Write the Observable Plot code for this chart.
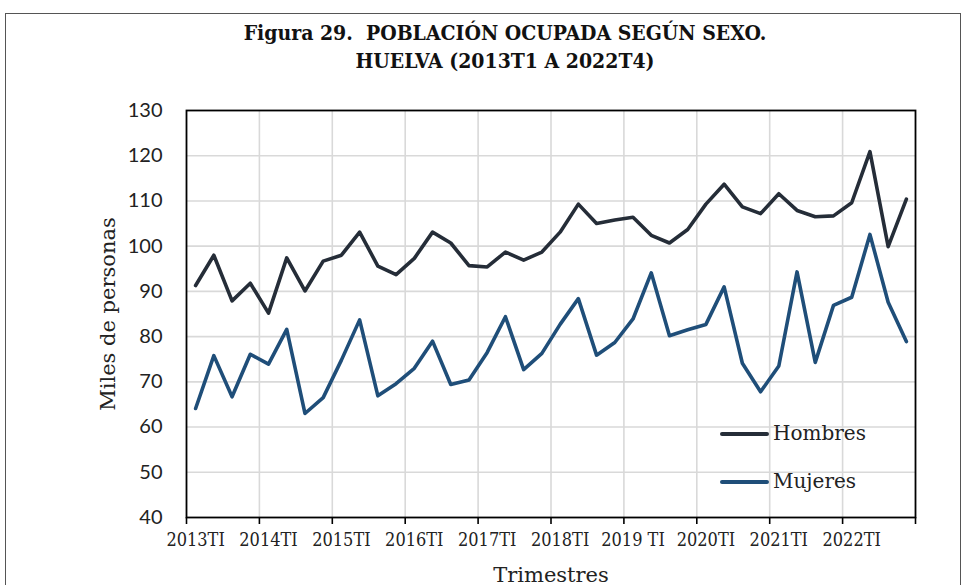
<!DOCTYPE html>
<html>
<head>
<meta charset="utf-8">
<script src="https://cdn.jsdelivr.net/npm/d3@7"></script>
<script src="https://cdn.jsdelivr.net/npm/@observablehq/plot@0.6"></script>
<style>
  html, body { margin: 0; padding: 0; background: #fff; }
  #wrap { position: relative; width: 967px; height: 585px; overflow: hidden; background: #fff; }
  #border { position: absolute; left: 5px; top: 13px; width: 956px; height: 620px; border: 1.5px solid #555; box-sizing: border-box; }
  #title { position: absolute; left: 155px; width: 700px; top: 19px; text-align: center;
           font-family: "DejaVu Serif Condensed", "DejaVu Serif", serif; font-stretch: condensed; font-weight: bold; font-size: 21px; line-height: 28px; color: #111; white-space: nowrap; }
  #chart { position: absolute; left: 0; top: 0; }
  .leg { position: absolute; left: 720px; font-family: "DejaVu Serif", serif; font-size: 20px; color: #222; }
  .leg span.sw { position: absolute; left: 0; width: 49px; height: 4px; border-radius: 2px; }
  .leg span.tx { position: absolute; left: 53px; white-space: nowrap; }
</style>
</head>
<body>
<div id="wrap">
  <div id="border"></div>
  <div id="title">Figura 29.&nbsp; POBLACIÓN OCUPADA SEGÚN SEXO.<br>HUELVA (2013T1 A 2022T4)</div>
  <div id="chart"></div>
  <div class="leg" style="top:432px"><span class="sw" style="background:#252d38"></span><span class="tx" style="top:-11px">Hombres</span></div>
  <div class="leg" style="top:480px"><span class="sw" style="background:#1f4e79"></span><span class="tx" style="top:-11px">Mujeres</span></div>
</div>
<script>
const series = ["Hombres", "Mujeres"];
const colors = ["#252d38", "#1f4e79"];
const yearLabels = ["2013TI","2014TI","2015TI","2016TI","2017TI","2018TI","2019 TI","2020TI","2021TI","2022TI"];
const yTicks = [40, 50, 60, 70, 80, 90, 100, 110, 120, 130];
const hombres = [
  91.3, 98.0, 87.9, 91.8, 85.2, 97.4, 90.1, 96.7,
  98.0, 103.1, 95.6, 93.7, 97.3, 103.1, 100.7, 95.7,
  95.4, 98.7, 96.9, 98.7, 103.1, 109.3, 105.0, 105.8,
  106.4, 102.4, 100.7, 103.7, 109.3, 113.7, 108.7, 107.2,
  111.6, 107.9, 106.5, 106.7, 109.6, 120.9, 99.9, 110.4
];
const mujeres = [
  64.1, 75.8, 66.7, 76.1, 73.9, 81.6, 63.0, 66.5,
  74.8, 83.7, 66.9, 69.6, 73.0, 79.0, 69.4, 70.4,
  76.5, 84.4, 72.7, 76.3, 82.7, 88.4, 75.9, 78.7,
  83.9, 94.1, 80.2, 81.5, 82.7, 91.0, 74.1, 67.8,
  73.5, 94.3, 74.3, 86.9, 88.7, 102.6, 87.6, 78.9
];

const data = [];
hombres.forEach((v, i) => data.push({i, value: v, serie: "Hombres"}));
mujeres.forEach((v, i) => data.push({i, value: v, serie: "Mujeres"}));

const n = hombres.length;
const labelPos = yearLabels.map((_, k) => k * 4);
const boundaries = d3.range(0, yearLabels.length + 1).map(k => k * 4 - 0.5);
const innerBoundaries = boundaries.slice(1, -1);

const serifC = '"DejaVu Serif Condensed", "DejaVu Serif", serif';
const serif = '"DejaVu Serif", serif';

const chart = Plot.plot({
  width: 967,
  height: 585,
  marginTop: 110,
  marginBottom: 68,
  marginLeft: 186,
  marginRight: 52,
  style: { background: "transparent", overflow: "visible" },
  x: { domain: [-0.5, n - 0.5] },
  y: { domain: [40, 130] },
  color: { domain: series, range: colors },
  marks: [
    Plot.gridY(yTicks.filter(t => t > 40 && t < 130), { stroke: "#d9d9d9", strokeOpacity: 1, strokeWidth: 1.6 }),
    Plot.gridX(innerBoundaries, { stroke: "#d9d9d9", strokeOpacity: 1, strokeWidth: 1.6 }),
    Plot.axisY(yTicks, {
      tickSize: 0, tickPadding: 24, fontSize: 20, fontFamily: "Lato, sans-serif", fill: "#222",
      label: "Miles de personas", labelAnchor: "center", labelArrow: "none", labelOffset: 86
    }),
    Plot.axisX(boundaries, { tickSize: 7, tickFormat: () => "", stroke: "#000", strokeWidth: 1.6, label: null }),
    Plot.axisX(labelPos, {
      tickSize: 0, tickPadding: 16, fontSize: 18, fontFamily: serifC, fill: "#222",
      tickFormat: d => yearLabels[d / 4],
      label: "Trimestres", labelAnchor: "center", labelArrow: "none", labelOffset: 64
    }),
    Plot.frame({ stroke: "#000", strokeWidth: 1.8 }),
    Plot.line(data, {
      x: "i", y: "value", stroke: "serie", z: "serie",
      strokeWidth: 3.6, strokeLinejoin: "round", strokeLinecap: "round"
    })
  ]
});

chart.querySelectorAll("g[aria-label='y-axis label'] text").forEach(t => {
  t.setAttribute("font-family", serif);
  t.setAttribute("font-size", "21");
  t.setAttribute("fill", "#222");
});
chart.querySelectorAll("g[aria-label='x-axis label'] text").forEach(t => {
  t.setAttribute("font-family", serif);
  t.setAttribute("font-size", "21");
  t.setAttribute("fill", "#222");
});
document.getElementById("chart").appendChild(chart);
</script>
</body>
</html>
